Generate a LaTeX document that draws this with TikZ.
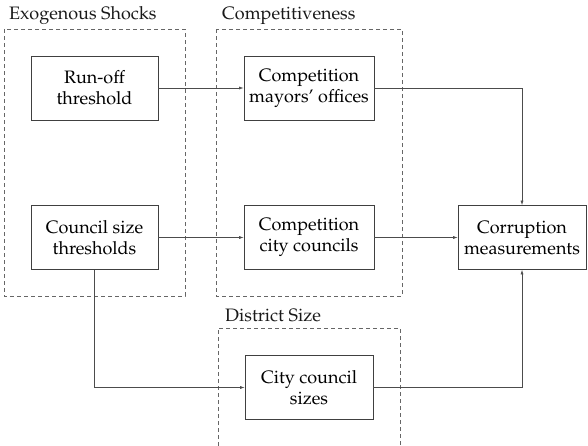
\documentclass[tikz,border=0pt]{standalone}
\IfFileExists{mathpazo.sty}{\usepackage[T1]{fontenc}\usepackage{mathpazo}}{\usepackage{fontspec}\setmainfont{Liberation Serif}}
\usetikzlibrary{arrows.meta}
\begin{document}
\begin{tikzpicture}[x=1pt,y=-1pt,
  font=\fontsize{18}{21}\selectfont,
  grp/.style={draw=black!60, line width=0.6pt, dash pattern=on 4pt off 3pt},
  box/.style={draw=black!75, line width=0.7pt, minimum width=127pt, minimum height=64pt,
    inner sep=0pt, align=center, text=black},
  lbl/.style={anchor=base west, inner sep=0pt, text=black!90},
  arr/.style={draw=black!70, line width=0.6pt, -{Latex[length=4.5pt,width=3pt]}}]
\useasboundingbox (0,0) rectangle (588,445);
% groups
\draw[grp] (4,29) rectangle (185,296);
\draw[grp] (216,29) rectangle (402,296);
\draw[grp] (218,446) -- (218,328) -- (400,328) -- (400,446);
\node[lbl] (gexo) at (9,19) {Exogenous Shocks};
\node[lbl] (gcomp) at (222,19) {Competitiveness};
\node[lbl] (gdist) at (225,321) {District Size};
% nodes
\node[box] (ro) at (94.5,88) {Run-off\\threshold};
\node[box] (cs) at (94.5,237.5) {Council size\\thresholds};
\node[box, minimum width=130pt] (cm) at (309,88) {Competition\\mayors' offices};
\node[box, minimum width=130pt] (cc) at (309,237.5) {Competition\\city councils};
\node[box, minimum width=128pt] (cor) at (522,237.5) {Corruption\\measurements};
\node[box, minimum width=128pt] (cz) at (309,387.5) {City council\\sizes};
% connectors
\draw[arr] (ro) -- (cm);
\draw[arr] (cs) -- (cc);
\draw[arr] (cc) -- (cor);
\draw[arr] (cm.east) -| (cor.north);
\draw[arr] (cs.south) |- (cz.west);
\draw[arr] (cz.east) -| (cor.south);
\end{tikzpicture}
\end{document}
